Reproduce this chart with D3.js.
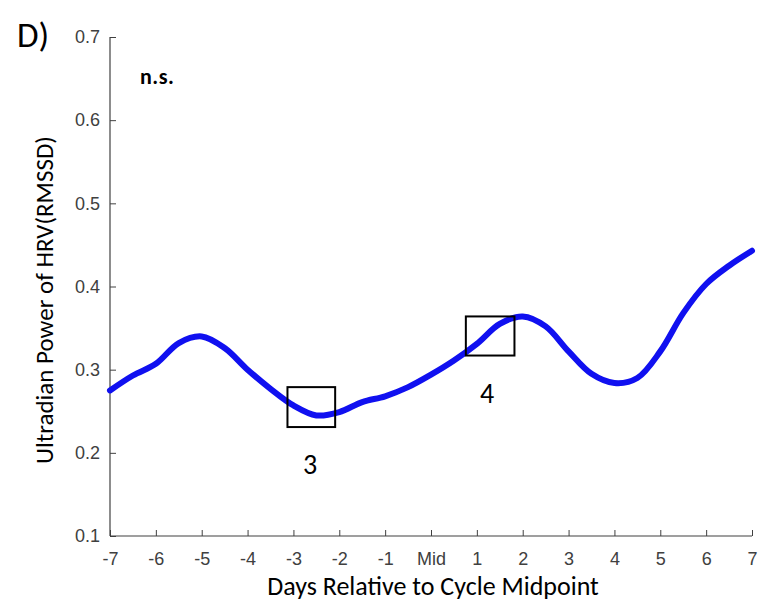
<!DOCTYPE html>
<html>
<head>
<meta charset="utf-8">
<script src="https://cdn.jsdelivr.net/npm/d3@7"></script>
<style>
  body { margin: 0; background: #fff; }
</style>
</head>
<body>
<div id="chart"></div>
<script>
// days relative to cycle midpoint, and smoothed ultradian power values
const days = [-7, -6.5, -6, -5.5, -5, -4.5, -4, -3.5, -3, -2.5, -2, -1.5, -1, -0.5,
              0, 0.5, 1, 1.5, 2, 2.5, 3, 3.5, 4, 4.5, 5, 5.5, 6, 6.5, 7];
const power = [0.275, 0.293, 0.307, 0.332, 0.340, 0.326, 0.300, 0.277, 0.257, 0.245,
               0.249, 0.261, 0.268, 0.279, 0.294, 0.311, 0.331, 0.355, 0.364, 0.352,
               0.322, 0.295, 0.284, 0.290, 0.322, 0.368, 0.403, 0.425, 0.443];
const xTicks = [-7, -6, -5, -4, -3, -2, -1, 0, 1, 2, 3, 4, 5, 6, 7];
const xTickLabels = ['-7', '-6', '-5', '-4', '-3', '-2', '-1', 'Mid', '1', '2', '3', '4', '5', '6', '7'];
const yTicks = [0.1, 0.2, 0.3, 0.4, 0.5, 0.6, 0.7];
// highlighted windows: [x0, x1, y0, y1, label]
const boxes = [
    [-3.13, -2.09, 0.231, 0.279, '3'],
    [0.76, 1.82, 0.317, 0.364, '4']
];

const W = 761, H = 605;
const margin = { top: 37, right: 9, bottom: 69, left: 110 };
const width = W - margin.left - margin.right;
const height = H - margin.top - margin.bottom;

const svg = d3.select('#chart').append('svg')
    .attr('width', W).attr('height', H);
const g = svg.append('g').attr('transform', `translate(${margin.left},${margin.top})`);

const x = d3.scaleLinear().domain([-7, 7]).range([0, width]);
const y = d3.scaleLinear().domain([0.1, 0.7]).range([height, 0]);

const axisColor = '#404040';

const xAxis = g.append('g').attr('transform', `translate(0,${height})`)
    .call(d3.axisBottom(x).tickValues(xTicks).tickSize(-6).tickPadding(16)
        .tickFormat((d, i) => xTickLabels[i]));
const yAxis = g.append('g')
    .call(d3.axisLeft(y).tickValues(yTicks).tickSize(-6).tickPadding(10)
        .tickFormat(d3.format('.1f')));

[xAxis, yAxis].forEach(a => {
    a.attr('font-family', null).attr('font-size', null);
    a.select('.domain').attr('stroke', axisColor).attr('stroke-width', 1.2);
    a.selectAll('.tick line').attr('stroke', axisColor);
    a.selectAll('.tick text').attr('fill', axisColor)
        .style('font-family', '"Liberation Sans", Arial, sans-serif')
        .style('font-size', '18px');
});
// domain path without outer end caps
xAxis.select('.domain').attr('d', `M0,0H${width}`);
yAxis.select('.domain').attr('d', `M0,0V${height}`);

const line = d3.line()
    .x((d, i) => x(days[i]))
    .y(d => y(d))
    .curve(d3.curveCatmullRom.alpha(0.5));

g.append('path').datum(power)
    .attr('fill', 'none')
    .attr('stroke', '#1010f0')
    .attr('stroke-width', 6)
    .attr('stroke-linejoin', 'round')
    .attr('stroke-linecap', 'round')
    .attr('d', line);

boxes.forEach(b => {
    g.append('rect')
        .attr('x', x(b[0])).attr('y', y(b[3]))
        .attr('width', x(b[1]) - x(b[0]))
        .attr('height', y(b[2]) - y(b[3]))
        .attr('fill', 'none').attr('stroke', '#000').attr('stroke-width', 2);
});

const calibri = 'Carlito, Lato, "Open Sans", sans-serif';

svg.append('text').attr('x', 310).attr('y', 474)
    .attr('text-anchor', 'middle').style('font-family', calibri).style('font-size', '28px')
    .text(boxes[0][4]);
svg.append('text').attr('x', 487).attr('y', 403)
    .attr('text-anchor', 'middle').style('font-family', calibri).style('font-size', '28px')
    .text(boxes[1][4]);

svg.append('text').attr('x', 140).attr('y', 84)
    .style('font-family', calibri).style('font-size', '22px').style('font-weight', 'bold')
    .style('letter-spacing', '0.5px')
    .text('n.s.');

svg.append('text').attr('x', 17).attr('y', 47)
    .style('font-family', calibri).style('font-size', '35px')
    .text('D)');

svg.append('text').attr('x', 433).attr('y', 595)
    .attr('text-anchor', 'middle').style('font-family', calibri).style('font-size', '26px')
    .text('Days Relative to Cycle Midpoint');

svg.append('text')
    .attr('transform', `translate(53,300) rotate(-90)`)
    .attr('text-anchor', 'middle').style('font-family', calibri).style('font-size', '25px')
    .text('Ultradian Power of HRV(RMSSD)');
</script>
</body>
</html>
